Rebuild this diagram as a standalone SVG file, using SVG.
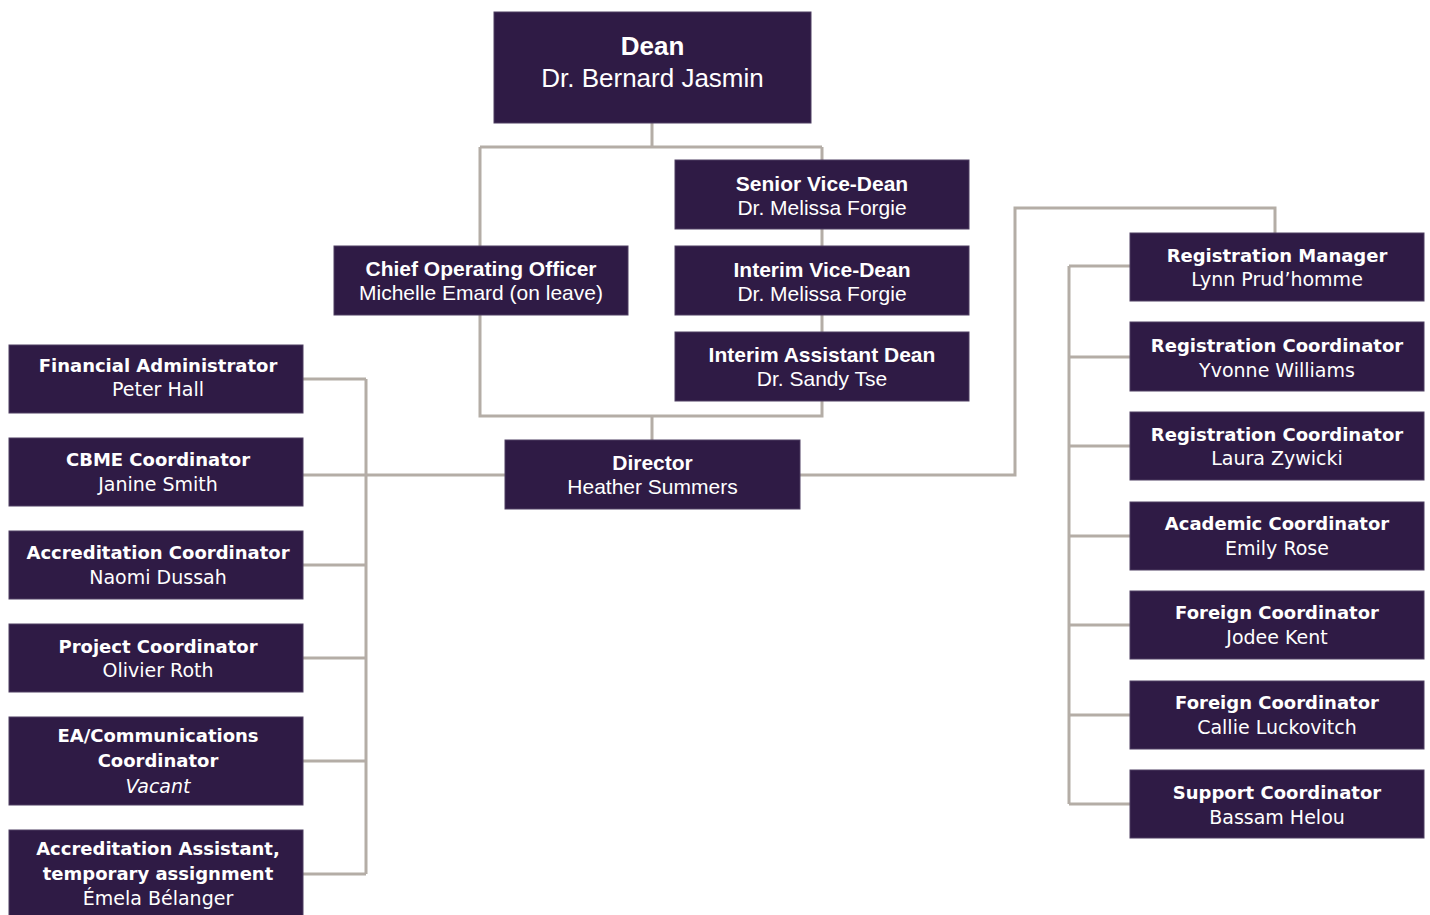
<svg xmlns="http://www.w3.org/2000/svg" width="1430" height="915" viewBox="0 0 1430 915">
<style>
.box{fill:#2f1b45;stroke:#4e3f62;stroke-width:1}
.ln{fill:none;stroke:#b4ada6;stroke-width:3}
.c{font-family:"Liberation Sans",Arial,sans-serif;fill:#fff;text-anchor:middle;font-size:21px}
.w{font-family:"DejaVu Sans",Verdana,sans-serif;fill:#fff;text-anchor:middle;font-size:19px}
.b{font-weight:bold}
.w.b{font-size:18px}
.i{font-style:italic}
.big{font-size:26px}
</style>
<rect width="1430" height="915" fill="#fff"/>
<g id="connectors">
<path class="ln" d="M652 123V147M480 147H822M480 147V416H822V147M652 416V440"/>
<path class="ln" d="M303 475H505M366 379V874M303 379H366M303 565H366M303 658H366M303 761H366M303 874H366"/>
<path class="ln" d="M800 475H1015V208H1275V233"/>
<path class="ln" d="M1069 266V804M1069 266H1130M1069 357H1130M1069 446H1130M1069 536H1130M1069 625H1130M1069 715H1130M1069 804H1130"/>
</g>
<g id="dean"><rect class="box" x="494" y="12" width="317" height="111"/><text class="c b big" x="652.5" y="55">Dean</text><text class="c big" x="652.5" y="87">Dr. Bernard Jasmin</text></g>
<g id="senior-vice-dean"><rect class="box" x="675" y="160" width="294" height="69"/><text class="c b" x="822" y="191">Senior Vice-Dean</text><text class="c" x="822" y="215">Dr. Melissa Forgie</text></g>
<g id="interim-vice-dean"><rect class="box" x="675" y="246" width="294" height="69"/><text class="c b" x="822" y="277">Interim Vice-Dean</text><text class="c" x="822" y="301">Dr. Melissa Forgie</text></g>
<g id="interim-assistant-dean"><rect class="box" x="675" y="332" width="294" height="69"/><text class="c b" x="822" y="362">Interim Assistant Dean</text><text class="c" x="822" y="386">Dr. Sandy Tse</text></g>
<g id="coo"><rect class="box" x="334" y="246" width="294" height="69"/><text class="c b" x="481" y="276">Chief Operating Officer</text><text class="c" x="481" y="300">Michelle Emard (on leave)</text></g>
<g id="director"><rect class="box" x="505" y="440" width="295" height="69"/><text class="c b" x="652.5" y="470">Director</text><text class="c" x="652.5" y="494">Heather Summers</text></g>
<g id="financial-administrator"><rect class="box" x="9" y="345" width="294" height="68"/><text class="w b" x="158" y="372">Financial Administrator</text><text class="w" x="158" y="396">Peter Hall</text></g>
<g id="cbme-coordinator"><rect class="box" x="9" y="438" width="294" height="68"/><text class="w b" x="158" y="466">CBME Coordinator</text><text class="w" x="158" y="491">Janine Smith</text></g>
<g id="accreditation-coordinator"><rect class="box" x="9" y="531" width="294" height="68"/><text class="w b" x="158" y="559">Accreditation Coordinator</text><text class="w" x="158" y="584">Naomi Dussah</text></g>
<g id="project-coordinator"><rect class="box" x="9" y="624" width="294" height="68"/><text class="w b" x="158" y="653">Project Coordinator</text><text class="w" x="158" y="677">Olivier Roth</text></g>
<g id="ea-communications"><rect class="box" x="9" y="717" width="294" height="88"/><text class="w b" x="158" y="742">EA/Communications</text><text class="w b" x="158" y="767">Coordinator</text><text class="w i" x="158" y="793">Vacant</text></g>
<g id="accreditation-assistant"><rect class="box" x="9" y="830" width="294" height="90"/><text class="w b" x="158" y="855">Accreditation Assistant,</text><text class="w b" x="158" y="880">temporary assignment</text><text class="w" x="158" y="905">Émela Bélanger</text></g>
<g id="registration-manager"><rect class="box" x="1130" y="233" width="294" height="68"/><text class="w b" x="1277" y="262">Registration Manager</text><text class="w" x="1277" y="286">Lynn Prud’homme</text></g>
<g id="registration-coordinator-1"><rect class="box" x="1130" y="322" width="294" height="69"/><text class="w b" x="1277" y="352">Registration Coordinator</text><text class="w" x="1277" y="377">Yvonne Williams</text></g>
<g id="registration-coordinator-2"><rect class="box" x="1130" y="412" width="294" height="68"/><text class="w b" x="1277" y="441">Registration Coordinator</text><text class="w" x="1277" y="465">Laura Zywicki</text></g>
<g id="academic-coordinator"><rect class="box" x="1130" y="502" width="294" height="68"/><text class="w b" x="1277" y="530">Academic Coordinator</text><text class="w" x="1277" y="555">Emily Rose</text></g>
<g id="foreign-coordinator-1"><rect class="box" x="1130" y="591" width="294" height="68"/><text class="w b" x="1277" y="619">Foreign Coordinator</text><text class="w" x="1277" y="644">Jodee Kent</text></g>
<g id="foreign-coordinator-2"><rect class="box" x="1130" y="681" width="294" height="68"/><text class="w b" x="1277" y="709">Foreign Coordinator</text><text class="w" x="1277" y="734">Callie Luckovitch</text></g>
<g id="support-coordinator"><rect class="box" x="1130" y="770" width="294" height="68"/><text class="w b" x="1277" y="799">Support Coordinator</text><text class="w" x="1277" y="824">Bassam Helou</text></g>
</svg>
